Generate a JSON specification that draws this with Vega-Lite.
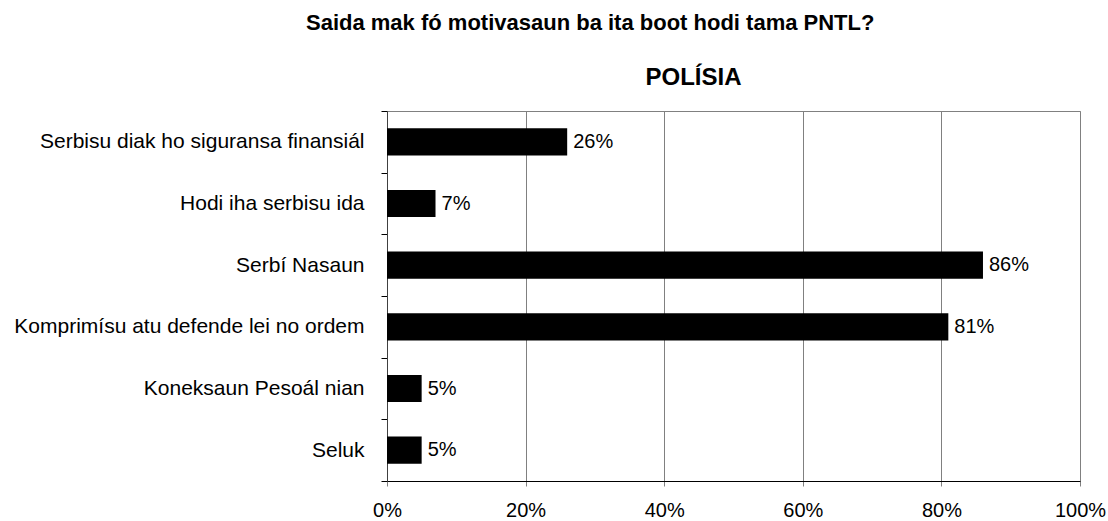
{
  "$schema": "https://vega.github.io/schema/vega-lite/v6.json",
  "width": 693,
  "height": 370,
  "padding": {"left": 13, "top": 12, "right": 5, "bottom": 5},
  "title": {
    "text": "Saida mak fó motivasaun ba ita boot hodi tama PNTL?",
    "anchor": "start",
    "frame": "group",
    "dx": -81,
    "fontSize": 22,
    "font": "Liberation Sans",
    "fontWeight": "bold",
    "color": "black",
    "offset": 30
  },
  "data": {
    "values": [
      {"category": "Serbisu diak ho siguransa finansiál", "value": 0.26},
      {"category": "Hodi iha serbisu ida", "value": 0.07},
      {"category": "Serbí Nasaun", "value": 0.86},
      {"category": "Komprimísu atu defende lei no ordem", "value": 0.81},
      {"category": "Koneksaun Pesoál nian", "value": 0.05},
      {"category": "Seluk", "value": 0.05}
    ]
  },
  "config": {
    "view": {"stroke": "#808080", "strokeWidth": 1},
    "font": "Liberation Sans"
  },
  "encoding": {
    "y": {
      "field": "category",
      "type": "nominal",
      "sort": null,
      "scale": {"paddingInner": 0, "paddingOuter": 0},
      "axis": {
        "title": null,
        "labelFontSize": 21,
        "labelFont": "Liberation Sans",
        "labelColor": "black",
        "tickBand": "extent",
        "tickSize": 6,
        "tickColor": "#000000",
        "domainColor": "#404040",
        "labelPadding": 17,
        "grid": false,
        "labelLimit": 0
      }
    }
  },
  "layer": [
    {
      "mark": {"type": "bar", "color": "black", "height": {"band": 0.44}},
      "encoding": {
        "x": {
          "field": "value",
          "type": "quantitative",
          "scale": {"domain": [0, 1]},
          "axis": {
            "title": null,
            "format": ".0%",
            "values": [0, 0.2, 0.4, 0.6, 0.8, 1],
            "grid": true,
            "gridColor": "#808080",
            "gridOpacity": 1,
            "domainColor": "black",
            "tickColor": "#808080",
            "tickSize": 5,
            "labelFontSize": 20,
            "labelFont": "Liberation Sans",
            "labelColor": "black",
            "labelPadding": 14,
            "labelFlush": false
          }
        }
      }
    },
    {
      "mark": {"type": "text", "align": "left", "baseline": "middle", "dx": 6, "fontSize": 20, "font": "Liberation Sans", "color": "black"},
      "encoding": {
        "x": {
          "field": "value",
          "type": "quantitative",
          "axis": {
            "orient": "top",
            "title": "POLÍSIA",
            "domain": false,
            "ticks": false,
            "labels": false,
            "grid": false,
            "titleFontSize": 24,
            "titleFont": "Liberation Sans",
            "titleFontWeight": "bold",
            "titleColor": "black",
            "titlePadding": 22,
            "titleX": 306,
            "titleAlign": "center"
          }
        },
        "text": {"field": "value", "format": ".0%"}
      }
    }
  ],
  "resolve": {"axis": {"x": "independent"}}
}
